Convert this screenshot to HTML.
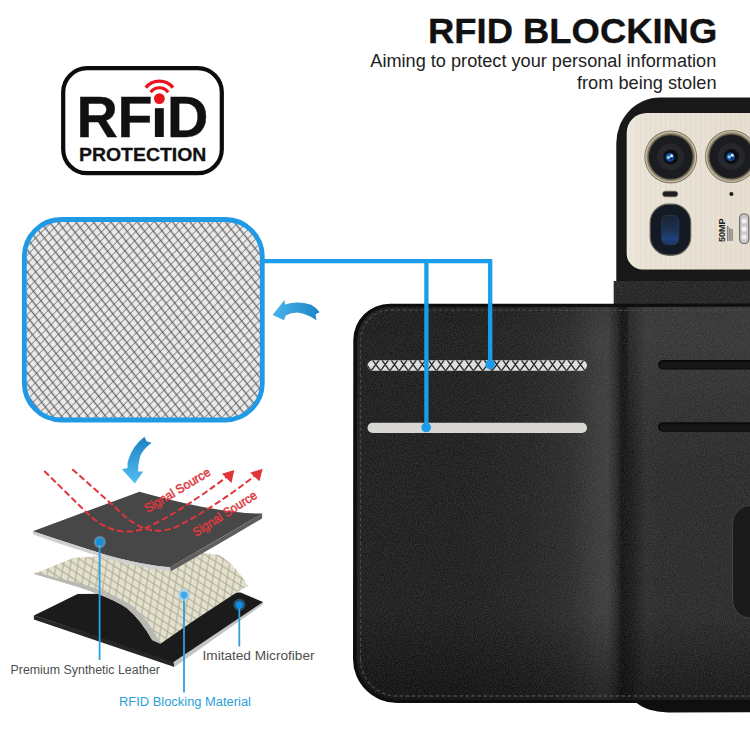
<!DOCTYPE html>
<html>
<head>
<meta charset="utf-8">
<title>RFID Blocking</title>
<style>
html,body{margin:0;padding:0;background:#ffffff;}
body{width:750px;height:750px;overflow:hidden;position:relative;font-family:"Liberation Sans",sans-serif;}
svg{position:absolute;left:0;top:0;display:block;}
text{font-family:"Liberation Sans",sans-serif;}
</style>
</head>
<body>
<svg width="750" height="750" viewBox="0 0 750 750">
<defs>
  <pattern id="mesh" width="1" height="1" patternUnits="userSpaceOnUse" patternTransform="matrix(3.745 4.756 4.924 -4.924 25 219)">
    <rect width="1" height="1" fill="#eaeaea"/>
    <rect x="0" y="0.4" width="1" height="0.2" fill="#6e6e6e"/>
    <rect x="0.425" y="0" width="0.15" height="1" fill="#858585"/>
    <rect x="0.425" y="0.4" width="0.15" height="0.2" fill="#5e5e5e"/>
  </pattern>
  <pattern id="slotmesh" width="7" height="10" patternUnits="userSpaceOnUse" x="367" y="359.5">
    <rect width="7" height="10" fill="#dcdcdc"/>
    <path d="M0 0 L7 10 M7 0 L0 10" stroke="#8a8a8a" stroke-width="0.9" fill="none"/>
  </pattern>
  <pattern id="beigemesh" width="1" height="1" patternUnits="userSpaceOnUse" patternTransform="matrix(6.5 4.2 -1.2 7 30 570)">
    <rect width="1" height="1" fill="#e3e0cd"/>
    <rect x="0" y="0.435" width="1" height="0.13" fill="#a29f8b"/>
    <rect x="0.435" y="0" width="0.13" height="1" fill="#a8a592"/>
  </pattern>
  <linearGradient id="plate" x1="0" y1="0" x2="1" y2="0">
    <stop offset="0" stop-color="#eee9de"/>
    <stop offset="0.12" stop-color="#e9e2d6"/>
    <stop offset="1" stop-color="#e5ddcf"/>
  </linearGradient>
  <radialGradient id="lens" cx="0.5" cy="0.5" r="0.5">
    <stop offset="0" stop-color="#2a66c8"/>
    <stop offset="0.3" stop-color="#15306a"/>
    <stop offset="0.42" stop-color="#0c0e14"/>
    <stop offset="1" stop-color="#15171c"/>
  </radialGradient>
  <linearGradient id="fold" x1="0" y1="0" x2="1" y2="0">
    <stop offset="0" stop-color="#1b1b1b"/>
    <stop offset="0.35" stop-color="#212121"/>
    <stop offset="0.55" stop-color="#292929"/>
    <stop offset="0.68" stop-color="#373737"/>
    <stop offset="0.74" stop-color="#3a3a3a"/>
    <stop offset="0.78" stop-color="#272727"/>
    <stop offset="0.81" stop-color="#101010"/>
    <stop offset="0.86" stop-color="#181818"/>
    <stop offset="0.93" stop-color="#2a2a2a"/>
    <stop offset="1" stop-color="#282828"/>
  </linearGradient>
  <linearGradient id="vshade" x1="0" y1="0" x2="0" y2="1">
    <stop offset="0" stop-color="#000" stop-opacity="0.12"/>
    <stop offset="0.08" stop-color="#000" stop-opacity="0"/>
    <stop offset="0.78" stop-color="#000" stop-opacity="0"/>
    <stop offset="1" stop-color="#000" stop-opacity="0.5"/>
  </linearGradient>
  <filter id="grain" x="0" y="0" width="100%" height="100%">
    <feTurbulence type="fractalNoise" baseFrequency="0.9" numOctaves="2" seed="3" result="n"/>
    <feColorMatrix type="matrix" values="0 0 0 0 0.5  0 0 0 0 0.5  0 0 0 0 0.5  0.9 0 0 0 -0.25"/>
  </filter>
<clipPath id="wclip"><path d="M357 341 A33.500 33.500 0 0 1 390.500 307 L613 307 L750 306.800 V699.500 L397 699.500 A40.300 40.300 0 0 1 356.700 659 Z"/></clipPath>
<linearGradient id="arrL" x1="0" y1="0" x2="1" y2="0"><stop offset="0" stop-color="#49b4ea"/><stop offset="1" stop-color="#1c86c8"/></linearGradient>
<linearGradient id="arrD" x1="0" y1="0" x2="0" y2="1"><stop offset="0" stop-color="#1c80c4"/><stop offset="1" stop-color="#52c0f2"/></linearGradient>
<linearGradient id="peri" x1="0" y1="0" x2="0" y2="1"><stop offset="0" stop-color="#1a2436"/><stop offset="0.45" stop-color="#1d2f4e"/><stop offset="0.8" stop-color="#1f4079"/><stop offset="1" stop-color="#1c3560"/></linearGradient>
<linearGradient id="rtop" x1="0" y1="0" x2="0" y2="1"><stop offset="0" stop-color="#fff" stop-opacity="0.07"/><stop offset="1" stop-color="#fff" stop-opacity="0"/></linearGradient>
<pattern id="brush" width="5" height="10" patternUnits="userSpaceOnUse"><rect x="0" width="1.2" height="10" fill="#d8cfbd"/><rect x="2.600" width="0.900" height="10" fill="#f3eee4"/></pattern>
</defs>

<!-- ===== Title ===== -->
<text x="428" y="43.4" font-size="35.4" font-weight="bold" fill="#111" stroke="#111" stroke-width="0.35" textLength="289.2" lengthAdjust="spacingAndGlyphs">RFID BLOCKING</text>
<text x="370.3" y="67.2" font-size="18" fill="#222" textLength="346" lengthAdjust="spacingAndGlyphs">Aiming to protect your personal information</text>
<text x="716.5" y="88.8" text-anchor="end" font-size="18.2" fill="#222">from being stolen</text>

<!-- ===== Badge ===== -->
<rect x="63.200" y="68.200" width="158.600" height="105" rx="24" ry="24" fill="#fff" stroke="#0c0c0c" stroke-width="4.200"/>
<text x="76.400" y="136.900" font-size="57.300" font-weight="bold" fill="#111" stroke="#111" stroke-width="0.400">R</text>
<text x="117.500" y="136.900" font-size="57.300" font-weight="bold" fill="#111" stroke="#111" stroke-width="0.400">F</text>
<text x="166.900" y="136.900" font-size="57.300" font-weight="bold" fill="#111" stroke="#111" stroke-width="0.400">D</text>
<rect x="154.900" y="108.200" width="8.900" height="28.800" fill="#111"/>
<circle cx="159.4" cy="98.6" r="5.4" fill="#e8131b"/>
<path d="M150.66 92.25 A10.8 10.8 0 0 1 168.14 92.25" stroke="#e8131b" stroke-width="3.100" fill="none"/>
<path d="M145.80 87.59 A17.5 17.5 0 0 1 173.00 87.59" stroke="#e8131b" stroke-width="3.400" fill="none"/>
<text x="79" y="160.800" font-size="19" font-weight="bold" fill="#111" stroke="#111" stroke-width="0.300" textLength="127.400" lengthAdjust="spacingAndGlyphs">PROTECTION</text>

<!-- ===== Mesh patch ===== -->
<rect x="24.3" y="219.500" width="238" height="200.500" rx="37" ry="37" fill="url(#mesh)" stroke="#2099e6" stroke-width="4.800"/>


<!-- ===== Phone ===== -->
<path d="M616.300 310 V143 A43.700 45.400 0 0 1 660 97.600 H750 V310 Z" fill="#181818"/>
<rect x="613.700" y="281" width="140" height="25" fill="#212121"/>
<rect x="613.700" y="281" width="140" height="25" filter="url(#grain)" opacity="0.35"/>
<path d="M626.700 253.500 V133 A20 20 0 0 1 646.700 113 H750 V269.500 H642.700 A16 16 0 0 1 626.700 253.500 Z" fill="url(#plate)"/>
<path d="M626.700 253.500 V133 A20 20 0 0 1 646.700 113 H750 V269.500 H642.700 A16 16 0 0 1 626.700 253.500 Z" fill="url(#brush)" opacity="0.22"/>
<!-- cameras -->
<g id="cam" transform="translate(670.700 157)">
  <circle r="26.400" fill="#7d745f"/>
  <circle r="25.500" fill="#cdc4ad"/>
  <circle r="24.400" fill="#9c9177"/>
  <circle r="23.100" fill="#5e5849"/>
  <circle r="21.800" fill="#1b1c20"/>
  <circle r="13.500" fill="#26272c"/>
  <circle r="7.500" fill="#0d0e12"/>
  <circle cx="-0.800" cy="0.300" r="4.300" fill="#1b4fa8"/>
  <circle cx="-2.200" cy="0.400" r="1.700" fill="#7fd0e0"/>
  <circle cx="0.800" cy="-1.300" r="1.500" fill="#d5ecf6"/>
  <circle cx="0.500" cy="2" r="1.200" fill="#0c2a66"/>
</g>
<use href="#cam" x="60.700" y="-0.500"/>
<rect x="662.600" y="191.200" width="15.200" height="5.600" rx="2.800" fill="#1f1f1f" stroke="#6f695c" stroke-width="0.700"/>
<circle cx="731.400" cy="194" r="2.100" fill="#1f1f1f"/>
<rect x="650.200" y="204.200" width="40.500" height="51" rx="18.500" fill="#141a24" stroke="#5f5c55" stroke-width="1.200"/>
<rect x="661.600" y="215.300" width="17.200" height="29.400" rx="6" fill="url(#peri)" stroke="#2c3a52" stroke-width="0.800"/>
<text transform="translate(725.300 242) rotate(-90)" font-size="9.500" font-weight="bold" fill="#222" textLength="23.500" lengthAdjust="spacingAndGlyphs">50MP</text>
<g fill="#444"><rect x="727.400" y="226" width="0.900" height="15"/><rect x="729.500" y="228" width="0.900" height="13"/><rect x="731.600" y="229" width="0.900" height="12"/></g>
<rect x="739.600" y="214" width="9.200" height="29.500" rx="4" fill="#c9c9c9" stroke="#6d6d6d" stroke-width="1.200"/>
<circle cx="744.200" cy="221" r="2.500" fill="#eee"/><circle cx="744.200" cy="229" r="2.500" fill="#f4f4f4"/><circle cx="744.200" cy="237" r="2.500" fill="#eee"/>

<!-- ===== Wallet ===== -->
<path d="M635 700 H750 V712.300 L668 712.500 Q 646 711.500 635.500 702 Z" fill="#0f0f0f"/>
<path d="M353.300 340 A36.500 36.500 0 0 1 390 303.700 L613 303.700 L750 303.500 V703 L397 703 A44 44 0 0 1 353 659 Z" fill="#0e0e0e"/>
<path d="M357 341 A33.500 33.500 0 0 1 390.500 307 L613 307 L750 306.800 V699.500 L397 699.500 A40.300 40.300 0 0 1 356.700 659 Z" fill="#1b1b1b"/>
<g clip-path="url(#wclip)">
<rect x="460" y="300" width="200" height="400" fill="url(#fold)"/>
<rect x="659.500" y="300" width="91" height="400" fill="#282828"/>
<rect x="357.500" y="306" width="392.500" height="393.500" fill="url(#vshade)"/>
<rect x="628" y="306" width="122" height="160" fill="url(#rtop)"/>
<rect x="354" y="300" width="396" height="404" filter="url(#grain)" opacity="0.35"/>
</g>
<!-- stitches -->
<path d="M360.500 659 V341 A30.500 30.500 0 0 1 391.500 310 L613 310.300 L750 310.300" stroke="#484848" stroke-width="1.300" stroke-dasharray="3.600 2.400" fill="none"/>
<path d="M360.500 659 A37 37 0 0 0 397.500 696 H750" stroke="#484848" stroke-width="1.300" stroke-dasharray="3.600 2.400" fill="none"/>
<!-- card slots -->
<clipPath id="slot1"><rect x="367.500" y="360.300" width="219.500" height="10.500" rx="5.200"/></clipPath>
<rect x="367.500" y="360.300" width="219.500" height="10.500" rx="5.200" fill="#dedede"/>
<g clip-path="url(#slot1)">
<path d="M354.15 360.3 L361.90 370.8 M360.35 360.3 L352.60 370.8 M363.45 360.3 L371.20 370.8 M369.65 360.3 L361.90 370.8 M372.75 360.3 L380.50 370.8 M378.95 360.3 L371.20 370.8 M382.05 360.3 L389.80 370.8 M388.25 360.3 L380.50 370.8 M391.35 360.3 L399.10 370.8 M397.55 360.3 L389.80 370.8 M400.65 360.3 L408.40 370.8 M406.85 360.3 L399.10 370.8 M409.95 360.3 L417.70 370.8 M416.15 360.3 L408.40 370.8 M419.25 360.3 L427.00 370.8 M425.45 360.3 L417.70 370.8 M428.55 360.3 L436.30 370.8 M434.75 360.3 L427.00 370.8 M437.85 360.3 L445.60 370.8 M444.05 360.3 L436.30 370.8 M447.15 360.3 L454.90 370.8 M453.35 360.3 L445.60 370.8 M456.45 360.3 L464.20 370.8 M462.65 360.3 L454.90 370.8 M465.75 360.3 L473.50 370.8 M471.95 360.3 L464.20 370.8 M475.05 360.3 L482.80 370.8 M481.25 360.3 L473.50 370.8 M484.35 360.3 L492.10 370.8 M490.55 360.3 L482.80 370.8 M493.65 360.3 L501.40 370.8 M499.85 360.3 L492.10 370.8 M502.95 360.3 L510.70 370.8 M509.15 360.3 L501.40 370.8 M512.25 360.3 L520.00 370.8 M518.45 360.3 L510.70 370.8 M521.55 360.3 L529.30 370.8 M527.75 360.3 L520.00 370.8 M530.85 360.3 L538.60 370.8 M537.05 360.3 L529.30 370.8 M540.15 360.3 L547.90 370.8 M546.35 360.3 L538.60 370.8 M549.45 360.3 L557.20 370.8 M555.65 360.3 L547.90 370.8 M558.75 360.3 L566.50 370.8 M564.95 360.3 L557.20 370.8 M568.05 360.3 L575.80 370.8 M574.25 360.3 L566.50 370.8 M577.35 360.3 L585.10 370.8 M583.55 360.3 L575.80 370.8 M586.65 360.3 L594.40 370.8 M592.85 360.3 L585.10 370.8 M595.95 360.3 L603.70 370.8 M602.15 360.3 L594.40 370.8" stroke="#2c2c2c" stroke-width="1.400" fill="none"/>
</g>
<rect x="367.500" y="422.700" width="219.500" height="10.300" rx="5.100" fill="#d8d7d3"/>
<rect x="658" y="360" width="100" height="9.500" rx="4.700" fill="#0b0b0b"/><rect x="660" y="362" width="100" height="6.500" rx="3.200" fill="#171717"/>
<rect x="658" y="422.200" width="100" height="9.500" rx="4.700" fill="#0b0b0b"/><rect x="660" y="424.200" width="100" height="6.500" rx="3.200" fill="#171717"/>
<path d="M752 505.500 H750.600 A18 18 0 0 0 732.600 523.500 V600 A18 18 0 0 0 750.600 618 H752 Z" fill="#1a1a1a" stroke="#454545" stroke-width="1"/>
<!-- blue connector lines -->
<path d="M263.500 261.200 H492.200 M490.200 261.200 V363.500 M426.400 261.200 V426.500" stroke="#1b9cec" stroke-width="4.300" fill="none"/>
<circle cx="490.200" cy="364.500" r="4.800" fill="#1b9cec"/>
<circle cx="426.200" cy="427.500" r="4.800" fill="#1b9cec"/>

<!-- ===== Arrows ===== -->
<path d="M272.600 314.900 L284.500 299.900 L285 304.400 Q297.500 300.500 311.200 304.700 Q317 308 319.700 312.200 L315.500 314.300 L316.500 320.200 Q308 314.200 297.300 312.500 Q291 312.500 285.600 315.400 L284 320.200 Z" fill="url(#arrL)"/>
<path d="M144.400 436.800 L146.600 441.200 L151.600 442.800 Q141 451 139.600 458.400 Q138 465 138 471.600 L143.200 471.600 L134.800 483.600 L122 469.200 L127.600 468 Q127 462 128.800 458.400 Q133 446 144.400 436.800 Z" fill="url(#arrD)"/>

<!-- ===== Layers ===== -->
<!-- bottom black -->
<path d="M33.900 615.500 L173.500 661 L174.400 667 L33.900 619.500 Z" fill="#262626"/>
<path d="M173.500 661 L263 601.500 L263 604.500 L174.400 667 Z" fill="#c4c4c4"/>
<path d="M33.900 615.500 L77.600 594 L240.500 592.500 L263 602 L173.500 662 Z" fill="#1b1b1b"/>
<!-- middle beige mesh -->
<path d="M33.900 574 L73 558 L180 550 L220 555 Q238 568 248 586 L235 593.600 L194.700 620 L160.500 643.700 L152 640 Q141 620 126.700 608 Q110 597 73.300 585.600 Z" fill="url(#beigemesh)"/>
<path d="M33.900 574 L73.300 585.600 Q110 597 126.700 608 Q141 620 152.300 640 L160.500 643.700 Q150 622 134 607 Q112 592 74 582 L36 572.500 Z" fill="#b9b9b4"/>
<!-- top dark -->
<path d="M32.800 531.200 L139.500 491.700 Q220 514 262.600 513.500 Q214 542 170 567.300 Q140 564.500 105.300 554.700 Q62 541 32.800 531.200 Z" fill="#474747"/>
<path d="M32.800 531.200 Q62 541 105.300 554.700 Q140 564.500 170 567.300 L171 571.300 Q140 568 105 558 Q62 545 32.800 534.200 Z" fill="#cfcfcf"/>
<path d="M170 567.300 Q214 542 262.300 513.500 L262 518.500 Q215 546.500 171 571.300 Z" fill="#5e5e5e"/>

<!-- red dashed signals -->
<path d="M44.300 471 L90 516 Q118 540 148 527 Q180 512 228 476" stroke="#e0353a" stroke-width="2" stroke-dasharray="6.500 3" fill="none"/>
<path d="M72.300 469.200 L116 508 Q146 540 176 527 Q214 508 257 474" stroke="#e0353a" stroke-width="2" stroke-dasharray="6.500 3" fill="none"/>
<path d="M234.300 469.900 L222 473.700 L231.500 483 Z" fill="#e0353a"/>
<path d="M262.600 468.800 L250.100 472.700 L259.500 481.300 Z" fill="#e0353a"/>
<text transform="translate(147.500 513) rotate(-31)" font-size="12.500" fill="#dc3a3e" stroke="#dc3a3e" stroke-width="0.500" textLength="74.500" lengthAdjust="spacingAndGlyphs">Signal Source</text>
<text transform="translate(196 537) rotate(-32.500)" font-size="12.500" fill="#dc3a3e" stroke="#dc3a3e" stroke-width="0.500" textLength="73.500" lengthAdjust="spacingAndGlyphs">Signal Source</text>

<!-- pointers -->
<path d="M99.600 542 V660 M184 595 V692.500 M239.300 605 V646.500" stroke="#2f9fe0" stroke-width="1.800" fill="none"/>
<circle cx="99.800" cy="542" r="6" fill="#6cc4f6" opacity="0.550"/><circle cx="99.800" cy="542" r="3.600" fill="#0d8fe6"/>
<circle cx="184" cy="595" r="6" fill="#8fd2f8" opacity="0.600"/><circle cx="184" cy="595" r="3.400" fill="#3aa8ea"/>
<circle cx="239.300" cy="604.800" r="6" fill="#3a9bd8" opacity="0.450"/><circle cx="239.300" cy="604.800" r="3.600" fill="#0d8fe6"/>

<text x="10.500" y="674.200" font-size="12.500" fill="#4e4e4e" textLength="149.500" lengthAdjust="spacingAndGlyphs">Premium Synthetic Leather</text>
<text x="202.500" y="659.700" font-size="12.500" fill="#4e4e4e" textLength="112" lengthAdjust="spacingAndGlyphs">Imitated Microfiber</text>
<text x="119" y="706.300" font-size="12.500" fill="#2b9fd8" textLength="132" lengthAdjust="spacingAndGlyphs">RFID Blocking Material</text>
</svg>
</body>
</html>
